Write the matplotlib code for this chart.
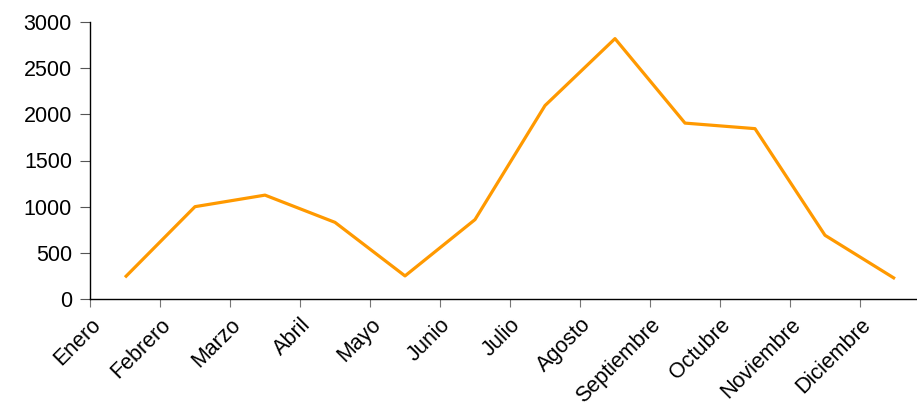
import matplotlib

matplotlib.use("Agg")
import matplotlib.pyplot as plt

months = ["Enero", "Febrero", "Marzo", "Abril", "Mayo", "Junio", "Julio",
          "Agosto", "Septiembre", "Octubre", "Noviembre", "Diciembre"]
values = [235, 1000, 1125, 830, 250, 860, 2095, 2820, 1905, 1845, 690, 220]
y_ticks = [0, 500, 1000, 1500, 2000, 2500, 3000]

plt.rcParams["font.family"] = ["Liberation Sans", "DejaVu Sans"]

fig = plt.figure(figsize=(9.17, 4.09), dpi=100)
# axes run a little past the right edge, as in the reference
ax = fig.add_axes([90 / 917, 1 - 299 / 409, 840 / 917, 277 / 409])

x = [i + 0.5 for i in range(len(months))]
ax.plot(x, values, color="#FF9900", linewidth=2.3, solid_capstyle="butt")

ax.set_xlim(0, len(months))
ax.set_ylim(0, 3000)
ax.set_yticks(y_ticks)
ax.set_xticks(range(len(months)))
ax.set_xticklabels(months, rotation=45, ha="right", va="top", rotation_mode="anchor")

for side in ("top", "right"):
    ax.spines[side].set_visible(False)
for side in ("left", "bottom"):
    ax.spines[side].set_color("black")
    ax.spines[side].set_linewidth(1.0)

ax.tick_params(axis="y", length=7, color="#555555", labelsize=15.5, pad=6)
ax.tick_params(axis="x", length=6, color="#777777", labelsize=15.5, pad=5)

fig.savefig("out.png", dpi=100)
plt.close(fig)
